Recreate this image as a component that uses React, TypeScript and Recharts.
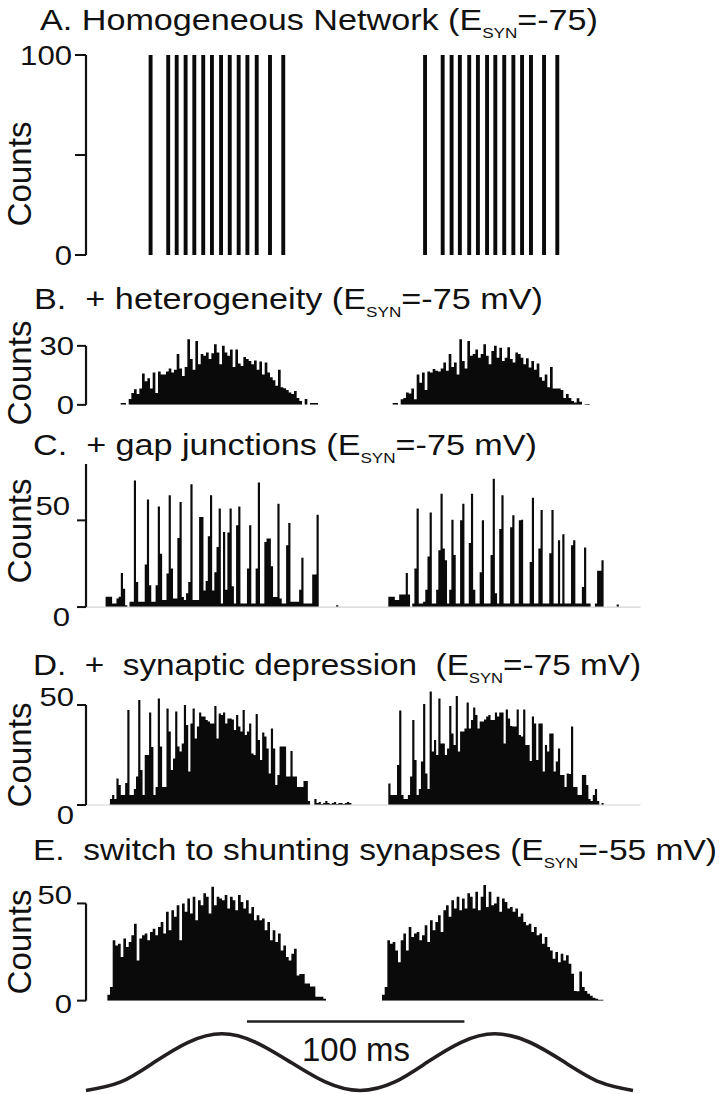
import React from "react";
import { ComposedChart, Area, Line, XAxis, YAxis, ReferenceLine } from "recharts";

const FONT = "'Liberation Sans', Arial, Helvetica, sans-serif";
const INK = "#0a0a0a";
const LINE_INK = "#231f20";
const W = 720;
const H = 1094;
const PLOT_LEFT = 86;
const PLOT_RIGHT = 640.6;
const T_MAX = 255; // ms across the plot width

// bin widths (ms)
const FINE_BIN = 1.2262;
const MS_BIN = 1;
const FINE_BINS = 208;
const MS_BINS = 255;

// ---------- Panel A: spike times (ms), every spike has 100 counts
const A_SPIKES_1 = [29.7, 37.8, 41.7, 45.8, 49.8, 53.9, 57.9, 62.1, 66.1, 70.2, 74.2, 78.5, 84.6, 90.7];
const A_SPIKES_2 = [155.9, 164, 168.1, 171.9, 176.2, 180.2, 184.4, 188.2, 192.3, 196.5, 200.5, 204.6, 210.6, 216.7];
const A_COUNT = 100;
const SPIKE_HALF_WIDTH_MS = 0.9;

// ---------- Panel B: + heterogeneity (bins of FINE_BIN ms)
const B_START_1 = 13;
const B_VALUES_1 = [1, 1, 0,
  3, 6, 8, 5.5, 8.3, 16, 12, 13.5, 8.3, 16.5, 6, 17, 15.5, 15.5, 17, 18.5, 16.5, 17.8, 25.8, 18.5,
  14.7, 19.3, 33.4, 23.3, 17.8, 32.5, 20.7, 25.8, 25, 26.6, 23.3, 26.2, 30.8, 26.6, 20.7, 30, 26.6,
  25, 28.2, 19.3, 28.2, 21, 19.8, 24.4, 23.3, 22.3, 20.7, 22.6, 17.8, 22, 15.5, 21.5, 16.5, 14, 12.5,
  9.7, 17.8, 9, 8.5, 7.5, 6.3, 5.5, 7, 3.5, 2,
  0, 3, 0, 1, 1, 1];
const B_START_2 = 115;
const B_VALUES_2 = [1, 1, 0,
  2.8, 3.5, 6.3, 5.8, 8.3, 2.8, 15.5, 11.3, 16.5, 7.5, 17, 16.5, 18.2, 17.3, 17, 18.5, 21.5, 17.3,
  25.8, 19.3, 21.5, 15.5, 33.4, 22.3, 18.5, 32.5, 25, 25.8, 28.2, 24, 25.8, 30.8, 25, 20.7, 27.4, 30,
  24, 29, 22.3, 24, 29.3, 23.3, 21.5, 26.6, 25.8, 24, 20.7, 23.7, 19, 22.3, 17.8, 21, 14, 12.3, 15.5,
  9, 19.3, 8.3, 8.3, 8.3, 7.5, 3.5, 5.5, 3.5, 2, 1.2,
  3.4, 1.6, 0, 0.5, 0.5];

// ---------- Panel C: + gap junctions (1 ms bins)
const C_START_1 = 9;
const C_VALUES_1 = [
  6, 6, 6, 2, 2, 5, 6, 19.6, 10.6, 1,
  0, 3, 3, 73, 14.5, 3, 3, 3, 24.6, 62,
  12.5, 3, 3, 12.5, 58, 30.8, 4, 4, 19.3, 64.5,
  22.2, 5, 5, 39.8, 60.6, 5.8, 4, 8, 14.5, 70.8,
  4, 4, 4, 52, 52, 9.6, 15, 40.8, 64.5, 9.6,
  20, 34.7, 56.8, 2, 43.3, 10, 43, 56.8, 12, 2,
  47.2, 58, 2, 2, 2, 22.2, 47.2, 2, 2, 22.2,
  71.8, 2, 2, 37.5, 39.5, 39.5, 23.5, 5.8, 5.8, 59.6,
  5, 2, 2, 35.6, 48.5, 3, 3, 3, 3, 10,
  28.5, 2, 2, 2, 2, 18.7, 18.7, 53.3, 0, 0,
  0, 0, 0, 0, 0, 0, 1];
const C_START_2 = 139;
const C_VALUES_2 = [
  6, 6, 6, 4, 4, 7.3, 7.3, 7.3, 19.6, 7.3,
  0, 2, 22.2, 56.8, 2, 2, 3, 10, 29.2, 54.5,
  2, 2, 10, 32.7, 65.4, 33.7, 27, 2, 10, 50.4,
  30, 2, 2, 50, 59.6, 2, 2, 37, 65.4, 10,
  2, 2, 20, 50, 2, 2, 2, 30, 74, 8,
  2, 45, 64.5, 2, 2, 2, 46, 53, 2, 2,
  50, 50.4, 2, 2, 2, 26, 63, 2, 2, 33.7,
  56, 2, 2, 2, 31, 56, 2, 2, 38.5, 2,
  42, 2, 2, 2, 35.6, 38.5, 2, 2, 2, 11.6,
  34.3, 2, 2, 0, 0, 2, 21, 21, 27, 0,
  0, 0, 0, 0, 0, 1.5];

// ---------- Panel D: + synaptic depression (1 ms bins)
const D_START_1 = 11;
const D_VALUES_1 = [3, 5, 3,
  13.3, 10, 5, 5, 11, 47.5, 5, 5, 8, 14.2,
  52.5, 17.5, 5, 25, 25, 46.2, 29, 5, 9, 53.3,
  29.2, 9, 9, 48.3, 36.7, 17.5, 23.3, 46.7, 29.2, 26.7,
  30.8, 50, 40, 16.7, 40.8, 48.3, 33.3, 39.2, 46.2, 44.2,
  44.2, 42.5, 41.7, 40.8, 40.8, 49.5, 33.3, 45.8, 45, 46.2,
  40.8, 43.3, 43.3, 42.8, 37.5, 45, 39.2, 36.7, 47.5, 35,
  36.7, 40.8, 25.8, 25, 45.5, 32.5, 22.5, 36.2, 34.2, 28.3,
  15.8, 38.3, 28.3, 10, 15, 29.2, 29.2, 29.2, 14.2, 14.2,
  27, 14.2, 14.2, 9, 9, 9, 12, 12, 2,
  0, 0, 3, 1, 1.5, 0.5, 1, 2, 1, 0.5, 1, 1.5, 0.5, 1, 1, 0.5, 1, 1.5, 1];
const D_START_2 = 139;
const D_VALUES_2 = [
  10.8, 5, 5, 5, 20, 47.2, 5, 3, 3, 5,
  14.2, 42.5, 22.5, 5, 8, 21.7, 50.5, 15.8, 8, 56.7,
  26.7, 32.5, 25, 53.3, 30.8, 30.8, 25, 28.3, 49.5, 35.8,
  30, 54.5, 26.7, 36.7, 36.7, 38.3, 51.2, 38.3, 42.5, 48.8,
  45, 38.3, 41.7, 41.7, 42.8, 44.2, 45, 42.5, 42.5, 46.2,
  44.2, 46.2, 46.2, 30.8, 47.8, 43.3, 39.5, 39.2, 39.2, 47.8,
  35, 34.2, 47.8, 30, 30, 22, 44.2, 40.8, 22.5, 40.8,
  40.8, 16.7, 30, 26.7, 35.8, 35.8, 16.7, 21.7, 28.3, 15,
  15, 9, 15.8, 15.5, 39.2, 9, 9, 5, 5, 15,
  15, 10, 3, 2, 5, 8, 2, 0, 1];

// ---------- Panel E: shunting synapses (bins of FINE_BIN ms)
const E_START_1 = 8;
const E_VALUES_1 = [3, 7,
  31, 28.4, 29.3, 22.4, 31.9, 27.6, 30.2, 33.6, 39.6, 20.7,
  31.9, 33.6, 34.5, 31, 35.3, 37, 33.6, 37.9, 40.5, 34.5,
  45.7, 36.2, 46.5, 43.1, 49.1, 31, 50, 45.7, 52.6, 44.8,
  53.4, 41.3, 51.7, 49.1, 55.2, 53.4, 44.8, 58.6, 49.1, 53.4,
  52.6, 51.7, 54.3, 47.4, 53.4, 51.7, 46.5, 54.3, 50.8, 47.4,
  51.7, 44.8, 48.2, 41.3, 43.9, 41.3, 42.2, 36.2, 40.5, 31,
  36.2, 30.2, 34.5, 25.8, 28.4, 22.4, 20.7, 24.1, 26.7, 12.9,
  13.7, 13.7, 8.8, 8.8, 7.3, 7.3, 2, 2, 2, 1];
const E_START_2 = 111;
const E_VALUES_2 = [3, 7,
  31, 29.3, 30.2, 25.8, 19.8, 31, 34.5, 25.8, 37.9, 32.7,
  34.5, 35.3, 31, 33.6, 38.8, 30.2, 41.3, 36.2, 40.5, 43.9,
  35.3, 46.5, 49.1, 43.1, 51.7, 47.4, 53.4, 46.5, 52.6, 47.4,
  55.2, 53.4, 47.4, 56, 46.5, 53.4, 59.5, 48.2, 56, 49.1,
  50, 53.4, 45.7, 52.6, 50.8, 47.4, 48.2, 45.7, 47.4, 43.1,
  44.8, 40.5, 38.8, 39.6, 35.3, 37.9, 33.6, 34.5, 29.3, 32.7,
  27.6, 25.8, 21.5, 25, 19.8, 24.1, 20.7, 23.3, 19, 13.8,
  5, 4.8, 15, 7, 5, 3.5, 2.5, 1.5, 1, 0.5, 0.5];

// ---------- stimulus and scale bar
const SINE_T = [0, 16, 31.5, 47, 62.5, 78, 94, 110, 126, 142, 157, 172.5, 188, 204, 220, 236, 251.5];
const SINE_V = [-1, -0.7, 0, 0.7, 1, 0.7, 0, -0.7, -1, -0.7, 0, 0.7, 1, 0.7, 0, -0.7, -1];
const SCALE_BAR_MS = [74, 174];
const SCALE_LABEL = "100 ms";

// ---------- text
const TITLES = [
  { pre: "A. Homogeneous Network (E", sub: "SYN", post: "=-75)" },
  { pre: "B.  + heterogeneity (E", sub: "SYN", post: "=-75 mV)" },
  { pre: "C.  + gap junctions (E", sub: "SYN", post: "=-75 mV)" },
  { pre: "D.  +  synaptic depression  (E", sub: "SYN", post: "=-75 mV)" },
  { pre: "E.  switch to shunting synapses (E", sub: "SYN", post: "=-55 mV)" },
];
const Y_LABEL = "Counts";

// ---------- table builders
type Pt = { t: number; v: number };

function buildHist(groups: { start: number; values: number[] }[], binMs: number, nBins: number): Pt[] {
  const v: number[] = new Array(nBins + 1).fill(0);
  groups.forEach((g) => g.values.forEach((val, k) => { v[g.start + k] = val; }));
  return v.map((val, i) => ({ t: i * binMs, v: val }));
}

function buildSpikes(times: number[], count: number): Pt[] {
  const out: Pt[] = [{ t: 0, v: 0 }];
  times.forEach((s) => {
    out.push({ t: s - SPIKE_HALF_WIDTH_MS, v: count });
    out.push({ t: s + SPIKE_HALF_WIDTH_MS, v: 0 });
  });
  out.push({ t: T_MAX, v: 0 });
  return out;
}

const A_TABLE = buildSpikes([...A_SPIKES_1, ...A_SPIKES_2], A_COUNT);
const B_TABLE = buildHist([{ start: B_START_1, values: B_VALUES_1 }, { start: B_START_2, values: B_VALUES_2 }], FINE_BIN, FINE_BINS);
const C_TABLE = buildHist([{ start: C_START_1, values: C_VALUES_1 }, { start: C_START_2, values: C_VALUES_2 }], MS_BIN, MS_BINS);
const D_TABLE = buildHist([{ start: D_START_1, values: D_VALUES_1 }, { start: D_START_2, values: D_VALUES_2 }], MS_BIN, MS_BINS);
const E_TABLE = buildHist([{ start: E_START_1, values: E_VALUES_1 }, { start: E_START_2, values: E_VALUES_2 }], FINE_BIN, FINE_BINS);
const SINE_TABLE = SINE_T.map((t, i) => ({ t, v: SINE_V[i] }));

type PanelCfg = {
  data: Pt[];
  yMax: number;
  zeroPx: number;
  ppu: number;
  ticks: number[];
  labels: number[];
  dys: Record<number, number>;
  tickSize: number;
  tickMargin: number;
  fontSize: number;
  charW: number;
  axisTop: number;
  baseline?: boolean;
};

const PAD_TOP = 24;
const PAD_BOTTOM = 34;

function Panel({ cfg }: { cfg: PanelCfg }) {
  const plotH = cfg.yMax * cfg.ppu;
  const top = cfg.zeroPx - plotH;
  const h = plotH + PAD_TOP + PAD_BOTTOM;
  const renderTick = (props: any) => {
    const { x, y, payload } = props;
    if (!cfg.labels.includes(payload.value)) return <g />;
    const label = String(payload.value);
    return (
      <text x={x} y={y + (cfg.dys[payload.value] ?? 0)} dy="0.36em" textAnchor="end"
        fontSize={cfg.fontSize} fontFamily={FONT} fill="#111"
        textLength={label.length * cfg.charW} lengthAdjust="spacingAndGlyphs">
        {label}
      </text>
    );
  };
  return (
    <div style={{ position: "absolute", left: 0, top: top - PAD_TOP, width: W, height: h }}>
      <ComposedChart width={W} height={h} data={cfg.data}
        margin={{ top: PAD_TOP, bottom: PAD_BOTTOM, left: 0, right: W - PLOT_RIGHT }}>
        <XAxis dataKey="t" type="number" domain={[0, T_MAX]} hide allowDataOverflow />
        <YAxis type="number" domain={[0, cfg.yMax]} allowDataOverflow width={PLOT_LEFT}
          ticks={cfg.ticks} interval={0} axisLine={false}
          tickLine={{ stroke: "#111", strokeWidth: 2 }} tickSize={cfg.tickSize}
          tickMargin={cfg.tickMargin} tick={renderTick} />
        {cfg.baseline && <ReferenceLine y={0} stroke="#d4d4d4" strokeWidth={1.2} />}
        <Area type="stepAfter" dataKey="v" stroke="none" fill={INK} fillOpacity={1}
          isAnimationActive={false} dot={false} activeDot={false} baseValue={0} />
        <ReferenceLine segment={[{ x: 0, y: 0 }, { x: 0, y: cfg.axisTop }]} stroke="#111"
          strokeWidth={2.2} ifOverflow="visible" />
      </ComposedChart>
    </div>
  );
}

const PANELS: PanelCfg[] = [
  { data: A_TABLE, yMax: 100, zeroPx: 255, ppu: 2, ticks: [0, 50, 100], labels: [0, 100], dys: {},
    tickSize: 11, tickMargin: 3, fontSize: 27, charW: 17.3, axisTop: 100 },
  { data: B_TABLE, yMax: 34, zeroPx: 405, ppu: 1.9667, ticks: [0, 30], labels: [0, 30], dys: {},
    tickSize: 9, tickMargin: 3, fontSize: 25, charW: 17.3, axisTop: 30 },
  { data: C_TABLE, yMax: 82.5, zeroPx: 606.7, ppu: 1.734, ticks: [0, 50], labels: [0, 50], dys: { 50: -15, 0: 10 },
    tickSize: 9, tickMargin: 7, fontSize: 26, charW: 17.3, axisTop: 82.5, baseline: true },
  { data: D_TABLE, yMax: 58, zeroPx: 805, ppu: 2, ticks: [0, 50], labels: [0, 50], dys: { 50: -8, 0: 10 },
    tickSize: 9, tickMargin: 3, fontSize: 25, charW: 17.3, axisTop: 50, baseline: true },
  { data: E_TABLE, yMax: 60, zeroPx: 1000.5, ppu: 1.944, ticks: [0, 50], labels: [0, 50], dys: { 50: -8, 0: 3 },
    tickSize: 9, tickMargin: 5, fontSize: 25, charW: 17.3, axisTop: 50 },
];

const TITLE_POS = [
  { x: 40, y: 30, len: 558 },
  { x: 34, y: 309, len: 509 },
  { x: 33, y: 455, len: 504 },
  { x: 33, y: 675, len: 608 },
  { x: 33, y: 860, len: 684 },
];
const COUNTS_CY = [174, 373, 531, 755, 942];

function Stimulus() {
  const yMin = -1, yMax = 1.45;
  const ppu = 28.35;
  const minPx = 1090.7;
  const plotH = (yMax - yMin) * ppu;
  const top = minPx - plotH;
  const PAD = 10;
  const h = plotH + 2 * PAD;
  return (
    <div style={{ position: "absolute", left: 0, top: top - PAD, width: W, height: h }}>
      <ComposedChart width={W} height={h} data={SINE_TABLE}
        margin={{ top: PAD, bottom: PAD, left: PLOT_LEFT, right: W - PLOT_RIGHT }}>
        <XAxis dataKey="t" type="number" domain={[0, T_MAX]} hide />
        <YAxis type="number" domain={[yMin, yMax]} hide />
        <Line type="natural" dataKey="v" stroke={LINE_INK} strokeWidth={3.6} dot={false}
          activeDot={false} isAnimationActive={false} />
        <ReferenceLine segment={[{ x: SCALE_BAR_MS[0], y: 1.43 }, { x: SCALE_BAR_MS[1], y: 1.43 }]}
          stroke={LINE_INK} strokeWidth={2.6} ifOverflow="visible" />
      </ComposedChart>
    </div>
  );
}

export default function App() {
  return (
    <div style={{ position: "absolute", left: 0, top: 0, width: W, height: H, background: "#fff", overflow: "hidden" }}>
      {PANELS.map((p, i) => <Panel key={i} cfg={p} />)}
      <Stimulus />
      <svg width={W} height={H} style={{ position: "absolute", left: 0, top: 0, pointerEvents: "none" }}>
        {TITLES.map((t, i) => (
          <text key={i} x={TITLE_POS[i].x} y={TITLE_POS[i].y} fontSize={30} fontFamily={FONT} fill="#111"
            textLength={TITLE_POS[i].len} lengthAdjust="spacingAndGlyphs" style={{ whiteSpace: "pre" }}>
            {t.pre}
            <tspan fontSize={15} dy={8}>{t.sub}</tspan>
            <tspan dy={-8}>{t.post}</tspan>
          </text>
        ))}
        {COUNTS_CY.map((cy, i) => (
          <text key={"c" + i} transform={`translate(31, ${cy}) rotate(-90)`} textAnchor="middle"
            fontSize={34} fontFamily={FONT} fill="#111" textLength={105} lengthAdjust="spacingAndGlyphs">
            {Y_LABEL}
          </text>
        ))}
        <text x={356} y={1061} textAnchor="middle" fontSize={33} fontFamily={FONT} fill="#111"
          textLength={108} lengthAdjust="spacingAndGlyphs">
          {SCALE_LABEL}
        </text>
      </svg>
    </div>
  );
}
